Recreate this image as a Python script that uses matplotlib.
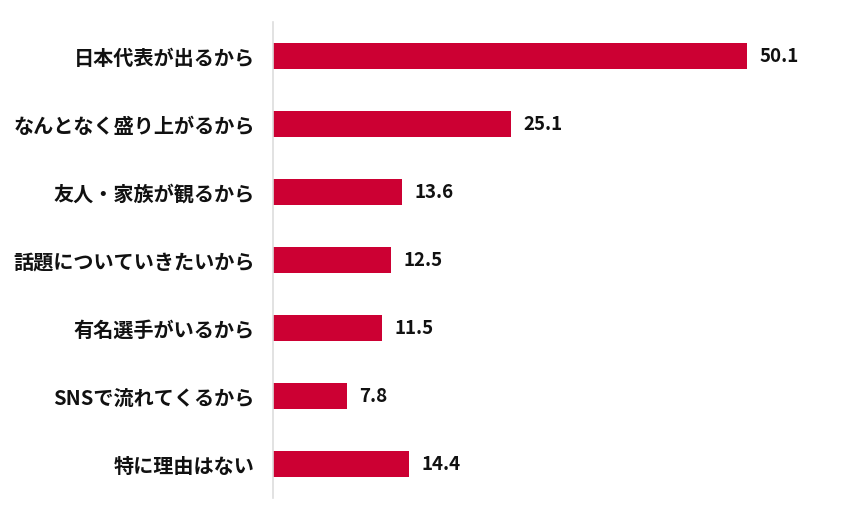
import matplotlib
matplotlib.use("Agg")
import matplotlib.pyplot as plt

plt.rcParams['font.family'] = ['Noto Sans CJK JP', 'DejaVu Sans']

categories = ["日本代表が出るから", "なんとなく盛り上がるから", "友人・家族が観るから",
              "話題についていきたいから", "有名選手がいるから", "SNSで流れてくるから",
              "特に理由はない"]
values = [50.1, 25.1, 13.6, 12.5, 11.5, 7.8, 14.4]

bar_color = "#CC0033"

fig = plt.figure(figsize=(8.63, 5.2), dpi=100)
ax = fig.add_axes([273 / 863, 22 / 520, 587 / 863, 476 / 520])

y = range(len(categories))
ax.barh(y, values, height=0.37, color=bar_color)

for yi, v in zip(y, values):
    ax.annotate(f"{v:.1f}", (v, yi), xytext=(9, 0), textcoords="offset points",
                va="center", ha="left", fontsize=13.5, fontweight="bold", color="#111111")

ax.set_yticks(list(y))
ax.set_yticklabels(categories, fontsize=14.5, fontweight="bold", color="#111111")
ax.tick_params(axis="y", length=0, pad=13)
ax.set_xticks([])
ax.set_xlim(0, 62)
ax.set_ylim(6.5, -0.5)

for side in ["top", "right", "bottom"]:
    ax.spines[side].set_visible(False)
ax.spines["left"].set_color("#DDDDDD")
ax.spines["left"].set_linewidth(1.2)

fig.savefig("out.png", dpi=100, facecolor="white")
